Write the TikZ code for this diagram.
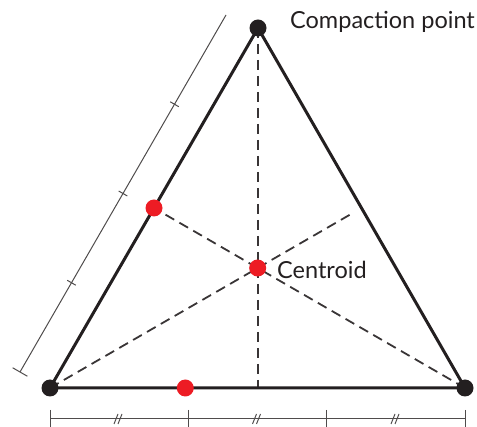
\documentclass[tikz,border=0pt]{standalone}
\usepackage{fontspec}
\setmainfont{Lato}
\usetikzlibrary{calc}
\definecolor{ink}{HTML}{231F20}
\definecolor{dotred}{HTML}{ED1C24}
\tikzset{vtx/.style={circle,fill=ink,inner sep=0pt,minimum size=17pt},
  mid/.style={circle,fill=dotred,inner sep=0pt,minimum size=17pt},
  side/.style={ink,line width=3pt},
  med/.style={ink!90,line width=1.8pt,dash pattern=on 10pt off 6pt},
  meas/.style={ink!80,line width=1pt},
  lbl/.style={anchor=west,inner sep=0pt,font=\fontsize{23.5}{27}\selectfont,text=ink}}

\begin{document}
\begin{tikzpicture}[x=1pt,y=-1pt]
\useasboundingbox (0,0) rectangle (477,427);
\coordinate (A) at (50,388); \coordinate (B) at (465,388); \coordinate (C) at (258,28);
\coordinate (mBC) at ($(B)!0.5!(C)$);
\coordinate (G) at ($1/3*(A)+1/3*(B)+1/3*(C)$);
% medians
\draw[med] (C) -- (C |- A);
\draw[med] (A) -- ($(A)!0.97!(mBC)$);
\draw[med] (B) -- ($(A)!0.5!(C)$);
% triangle
\draw[side] (A) -- (B) -- (C) -- cycle;
\node[vtx] (vA) at (A) {}; \node[vtx] (vB) at (B) {}; \node[vtx] (vC) at (C) {};
\node[mid] (mAC) at ($(A)!0.5!(C)$) {};
\node[mid] (mAB) at ($(A)!0.326!(B)$) {};
\node[mid] (cen) at (G) {};
\node[lbl] (tcen) at (277,270) {Centroid};
\node[lbl] (tcomp) at (290,22) {Compaction point};
% measure along the base
\draw[meas] (50,419) -- (465,419);
\foreach \x in {50,188.3,326.7,465} \draw[meas] (\x,410) -- (\x,428);
\foreach \x in {119,257.5,396}{
  \draw[meas] (\x-5,424) -- (\x-1,414);
  \draw[meas] (\x-1,424) -- (\x+3,414);}
% measure along the left side
\coordinate (L1) at (20,372); \coordinate (L2) at (226,15);
\draw[meas] (L1) -- (L2);
\foreach \f in {0,1} \draw[meas] ($(L1)!\f!(L2)!8.5pt!90:(L2)$) -- ($(L1)!\f!(L2)!8.5pt!-90:(L2)$);
\foreach \f in {0.25,0.5,0.75} \draw[meas] ($(L1)!\f!(L2)!5pt!90:(L2)$) -- ($(L1)!\f!(L2)!5pt!-90:(L2)$);
\end{tikzpicture}
\end{document}
